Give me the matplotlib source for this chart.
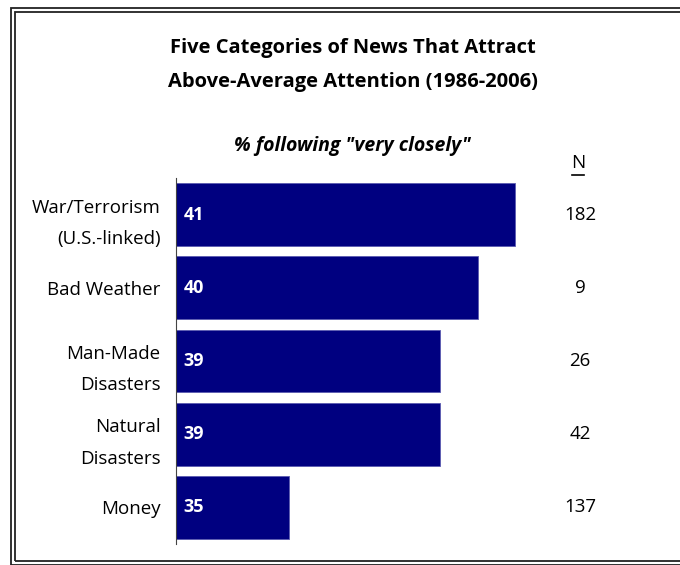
import matplotlib.pyplot as plt
from matplotlib.patches import Rectangle
from matplotlib.transforms import blended_transform_factory

categories = ["War/Terrorism\n(U.S.-linked)", "Bad Weather", "Man-Made\nDisasters",
              "Natural\nDisasters", "Money"]
values = [41, 40, 39, 39, 35]
n_counts = [182, 9, 26, 42, 137]

plt.rcParams['font.family'] = ['Open Sans', 'DejaVu Sans']

W, H = 680, 565
fig = plt.figure(figsize=(W / 100, H / 100), dpi=100)


def fx(px):
    return px / W


def fy(py):
    return 1 - py / H


# double frame around the chart
for x0, y0, y1 in [(10.5, 8, 565), (15, 12, 561)]:
    fig.patches.append(Rectangle((fx(x0), fy(y1)), 1.2, fy(y0) - fy(y1),
                                 transform=fig.transFigure, fill=False,
                                 edgecolor="#222222", linewidth=1.3))

ax = fig.add_axes([fx(176), fy(544), fx(666) - fx(176), fy(178) - fy(544)])
pos = list(range(len(values)))
ax.barh(pos, [v - 32 for v in values], left=32, height=0.86, color="#000080",
        edgecolor="#5a5ab0", linewidth=0.6)
ax.set_xlim(32, 45)
ax.set_ylim(4.5, -0.5)
for s in ["top", "right", "bottom"]:
    ax.spines[s].set_visible(False)
ax.spines["left"].set_color("#444444")
ax.spines["left"].set_linewidth(0.8)
ax.set_xticks([])
ax.set_yticks(pos)
ax.set_yticklabels(categories, fontsize=13.5, linespacing=1.95)
ax.tick_params(axis="y", length=0, pad=11)

for i, v in enumerate(values):
    ax.text(32.2, i, str(v), color="white", fontsize=13, fontweight="bold",
            ha="left", va="center")

tr = blended_transform_factory(fig.transFigure, ax.transData)
for i, n in enumerate(n_counts):
    ax.text(fx(580), i, str(n), transform=tr, fontsize=13.5, ha="center", va="center")

fig.text(fx(578), fy(163), "N", fontsize=13.5, ha="center", va="center")
fig.add_artist(plt.Line2D([fx(572), fx(584)], [fy(175), fy(175)], color="black", lw=1.2))

fig.text(fx(353), fy(48), "Five Categories of News That Attract", fontsize=14.5,
         fontweight="bold", ha="center", va="center")
fig.text(fx(353), fy(82), "Above-Average Attention (1986-2006)", fontsize=14.5,
         fontweight="bold", ha="center", va="center")
fig.text(fx(352), fy(146), "% following \"very closely\"", fontsize=14,
         fontweight="bold", fontstyle="italic", ha="center", va="center")

fig.savefig("out.png", dpi=100)
